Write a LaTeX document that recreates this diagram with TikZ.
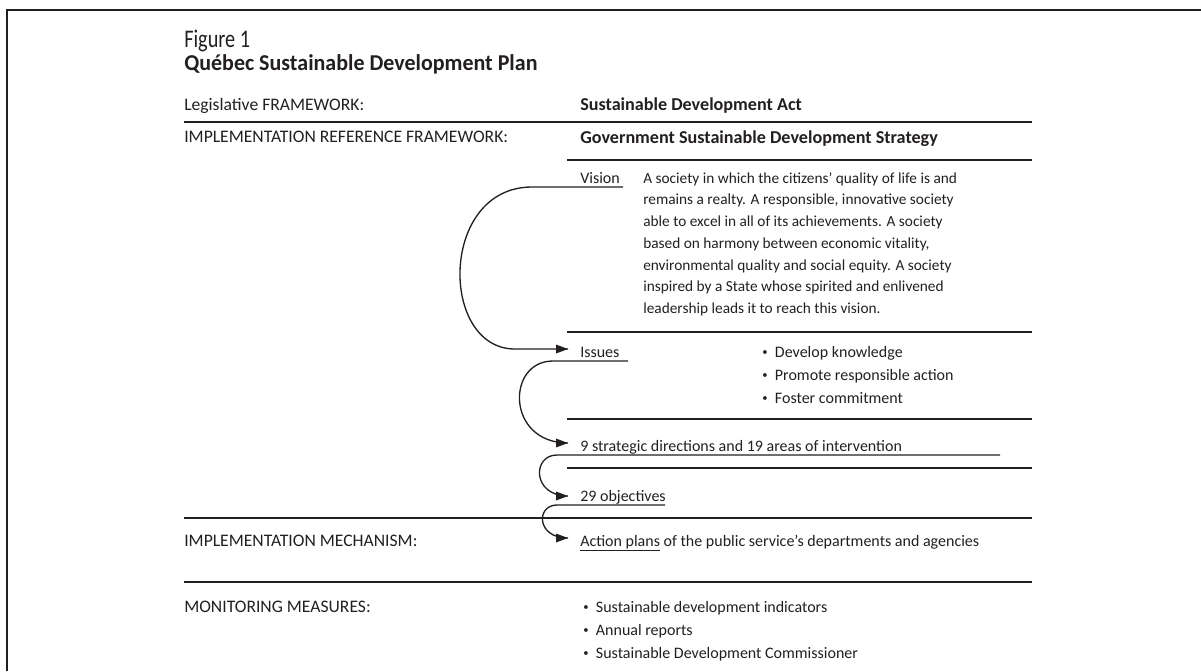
\documentclass[tikz,border=0pt]{standalone}
\usepackage{fontspec}
\setmainfont{Carlito}
\newfontfamily\figfont[FakeStretch=0.8]{Carlito}
\newfontfamily\titlefont[FakeStretch=0.97]{Carlito}
\definecolor{ink}{RGB}{35,31,32}
\tikzset{
    lbl/.style={anchor=base west, inner sep=0pt, text=ink, font=\fontsize{12}{14}\selectfont},
    side/.style={lbl, font=\fontsize{13.2}{15}\selectfont},
    hd/.style={lbl, font=\fontsize{13.6}{15}\selectfont\bfseries},
    rule/.style={draw=ink, line width=1.4pt},
    flow/.style={draw=ink, line width=1pt},
}
\newcommand{\itm}[1]{\makebox[9.5pt][l]{\raisebox{1pt}{\fontsize{8}{8}\selectfont\textbullet}}#1}
\begin{document}
\begin{tikzpicture}[x=0.75pt,y=0.75pt,yscale=-1,xscale=1]
    \useasboundingbox (0,0) rectangle (1201,671);
    % frame
    \draw [ink, line width=1.1pt] (7,671) -- (7,10) -- (1201,10);
    % heading
    \node [lbl, font=\figfont\fontsize{19}{20}\selectfont] (fig) at (184,47) {Figure 1};
    \node [lbl, font=\titlefont\fontsize{17}{20}\selectfont\bfseries] (title) at (184,70) {Québec Sustainable Development Plan};
    % left column
    \node [side] (leg) at (184,110) {Legislative FRAMEWORK:};
    \node [side] (irf) at (184,142) {IMPLEMENTATION REFERENCE FRAMEWORK:};
    \node [side] (mech) at (184,546) {IMPLEMENTATION MECHANISM:};
    \node [side] (mon) at (184,612) {MONITORING MEASURES:};
    % right column
    \node [hd] (act) at (580,110) {Sustainable Development Act};
    \node [hd] (gsds) at (580,143) {Government Sustainable Development Strategy};
    \node [lbl] (vision) at (580,183) {Vision};
    \node [lbl, anchor=north west, align=left, font=\fontsize{11.5}{16.3}\selectfont] (vtext) at (643,172) {A society in which the citizens’ quality of life is and\\
        remains a realty. A responsible, innovative society\\
        able to excel in all of its achievements. A society\\
        based on harmony between economic vitality,\\
        environmental quality and social equity. A society\\
        inspired by a State whose spirited and enlivened\\
        leadership leads it to reach this vision.};
    \node [lbl] (issues) at (580,357) {Issues};
    \node [lbl] (iss1) at (762,357) {\itm{Develop knowledge}};
    \node [lbl] (iss2) at (762,380) {\itm{Promote responsible action}};
    \node [lbl] (iss3) at (762,403) {\itm{Foster commitment}};
    \node [lbl] (dirs) at (580,451) {9 strategic directions and 19 areas of intervention};
    \node [lbl] (obj) at (580,501) {29 objectives};
    \node [lbl] (plans) at (580,546) {\underline{Action plans} of the public service’s departments and agencies};
    \node [lbl] (mon1) at (583,612) {\itm{Sustainable development indicators}};
    \node [lbl] (mon2) at (583,635) {\itm{Annual reports}};
    \node [lbl] (mon3) at (583,658) {\itm{Sustainable Development Commissioner}};
    % rules
    \draw [rule] (184,122) -- (1032,122);
    \foreach \y in {160,332,419,468}
        \draw [rule] (567,\y) -- (1032,\y);
    \draw [rule] (184,518) -- (1032,518);
    \draw [rule] (184,582) -- (1032,582);
    % underlines feeding the arrows, and the arrow tips left of each label
    \coordinate (vis-ul) at (623,187);
    \coordinate (iss-ul) at (628,361);
    \coordinate (dirs-ul) at (1000,455);
    \coordinate (obj-ul) at (665,505);
    \coordinate (iss-tip) at (568,349);
    \coordinate (dirs-tip) at (568,443);
    \coordinate (obj-tip) at (568,496);
    \coordinate (plans-tip) at (568,538);
    \draw [flow] (vis-ul) -- (532,187) .. controls (439,187) and (439,349) .. (515,349) -- (iss-tip);
    \draw [flow] (iss-ul) -- (553,361) .. controls (506,361) and (506,443) .. (dirs-tip);
    \draw [flow] (dirs-ul) -- (557,455) .. controls (532,455) and (532,496) .. (obj-tip);
    \draw [flow] (obj-ul) -- (557,505) .. controls (536,505) and (536,538) .. (plans-tip);
    \foreach \t in {iss-tip,dirs-tip,obj-tip,plans-tip}
        \fill [ink, shift={(\t)}] (0,0) -- (-12,-4.5) -- (-12,4.5) -- cycle;
\end{tikzpicture}
\end{document}
